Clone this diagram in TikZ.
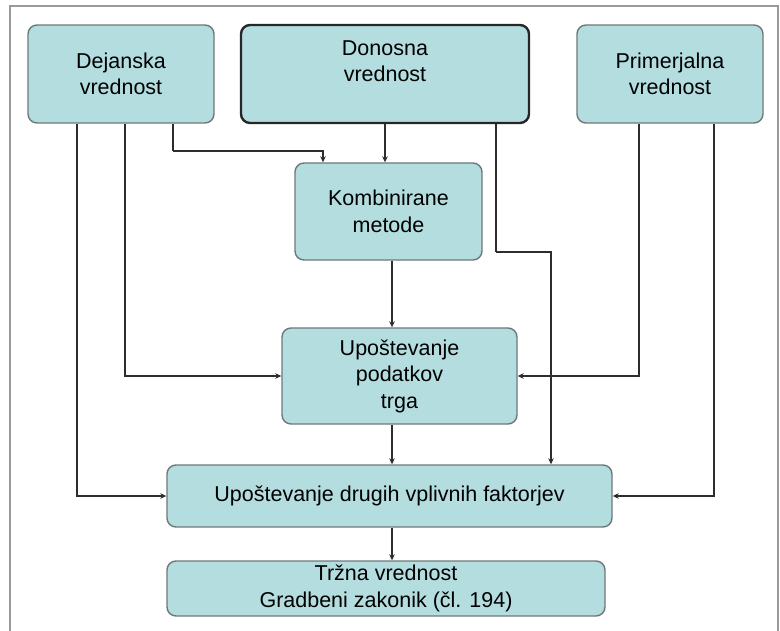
\documentclass[tikz,border=0pt]{standalone}
\usepackage{fontspec}
\setmainfont{Liberation Sans}
\usetikzlibrary{arrows.meta}
\definecolor{boxfill}{RGB}{180,221,224}
\definecolor{boxline}{RGB}{110,120,120}
\definecolor{conn}{RGB}{45,45,45}
\begin{document}
\begin{tikzpicture}[x=1pt,y=-1pt,
  box/.style={draw=boxline, line width=1.4pt, fill=boxfill, rounded corners=9pt,
    align=center, inner sep=0pt, font=\fontsize{21.5}{26.5}\selectfont},
  arr/.style={draw=conn, line width=2.3pt, -{Stealth[length=6pt,width=5.5pt]}},
  plain/.style={draw=conn, line width=2.3pt}]
\useasboundingbox (0,0) rectangle (780,631);
\draw[draw=gray!80, line width=1.5pt] (10,640) -- (10,6) -- (778,6) -- (778,640);

\node[box, minimum width=186pt, minimum height=98pt] (dej) at (121,74) {Dejanska\\vrednost};
\node[box, draw=black!85, line width=2.4pt, minimum width=288pt, minimum height=98pt] (don) at (385,74) {};
\node[align=center, inner sep=0pt, font=\fontsize{21.5}{26.5}\selectfont] (dontext) at (385,61) {Donosna\\vrednost};
\node[box, minimum width=186pt, minimum height=98pt] (prim) at (670,74) {Primerjalna\\vrednost};
\node[box, minimum width=187pt, minimum height=97pt] (komb) at (388.5,211.5) {Kombinirane\\metode};
\node[box, minimum width=235pt, minimum height=96pt] (pod) at (399.5,376) {Upoštevanje\\podatkov\\trga};
\node[box, minimum width=445pt, minimum height=62pt] (drug) at (389.5,496) {Upoštevanje drugih vplivnih faktorjev};
\node[box, minimum width=438pt, minimum height=55pt] (trz) at (386,588.5) {Tržna vrednost\\Gradbeni zakonik (čl. 194)};

\coordinate (dk) at (173,151);
\coordinate (dd) at (496,252);

\draw[arr] (dej.south -| 77,0) |- (drug.west);
\draw[arr] (dej.south -| 125,0) |- (pod.west);
\draw[plain] (dej.south -| 173,0) -- (dk);
\draw[arr] (dk) -| (komb.north -| 323,0);
\draw[arr] (don.south -| 385,0) -- (komb.north -| 385,0);
\draw[plain] (don.south -| 496,0) -- (dd);
\draw[arr] (dd) -| (drug.north -| 551,0);
\draw[arr] (komb.south -| 392,0) -- (pod.north -| 392,0);
\draw[arr] (pod.south -| 392,0) -- (drug.north -| 392,0);
\draw[arr] (drug.south -| 392,0) -- (trz.north -| 392,0);
\draw[arr] (prim.south -| 639,0) |- (pod.east);
\draw[arr] (prim.south -| 714,0) |- (drug.east);
\end{tikzpicture}
\end{document}
